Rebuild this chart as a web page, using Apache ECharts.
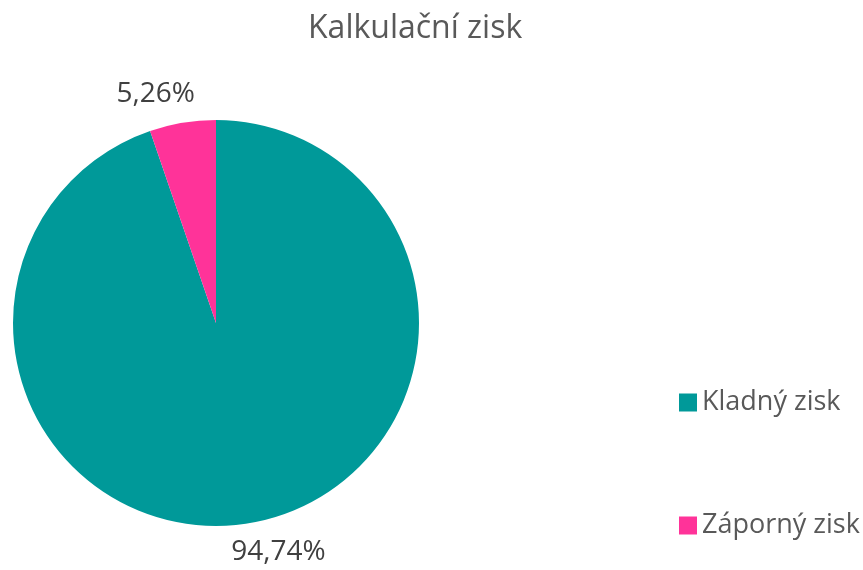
<!DOCTYPE html>
<html>
<head>
<meta charset="utf-8">
<script src="https://cdn.jsdelivr.net/npm/echarts@6/dist/echarts.min.js"></script>
<style>
  html, body { margin: 0; padding: 0; background: #fff; }
  #main { width: 863px; height: 570px; }
</style>
</head>
<body>
<div id="main"></div>
<script>
// data
const categories = ['Kladný zisk', 'Záporný zisk'];
const values = [18, 1];
const colors = ['#009999', '#FF3399'];

const chart = echarts.init(document.getElementById('main'));

const pieData = categories.map((name, i) => ({
  name,
  value: values[i],
  itemStyle: { color: colors[i] }
}));

const option = {
  animation: false,
  textStyle: { fontFamily: 'Open Sans' },
  title: {
    text: 'Kalkulační zisk',
    left: 303,
    top: 8,
    textStyle: { fontSize: 32, fontWeight: 'normal', color: '#595959', fontFamily: 'Open Sans' }
  },
  legend: {
    orient: 'vertical',
    left: 674,
    top: 384,
    icon: 'rect',
    itemWidth: 18,
    itemHeight: 18,
    itemGap: 96,
    textStyle: { fontSize: 27, color: '#595959', fontFamily: 'Open Sans' },
    data: categories
  },
  series: [{
    type: 'pie',
    center: [216, 323],
    radius: 203,
    startAngle: 90,
    clockwise: true,
    data: pieData,
    label: {
      show: true,
      position: 'outside',
      fontSize: 28,
      color: '#404040',
      fontFamily: 'Open Sans',
      formatter: (p) => p.percent.toFixed(2).replace('.', ',') + '%'
    },
    labelLine: { show: false, length: 29, length2: 0 },
    labelLayout: (p) => ({ dx: p.dataIndex === 0 ? -28 : 22 }),
    emphasis: { disabled: true }
  }]
};

chart.setOption(option);
</script>
</body>
</html>
